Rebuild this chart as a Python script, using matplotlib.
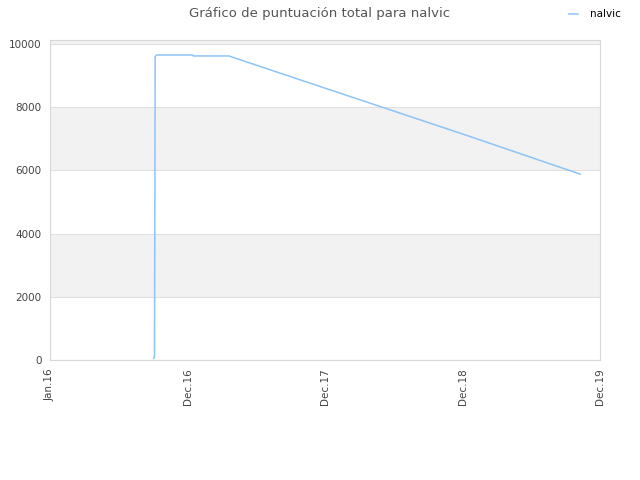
import matplotlib
matplotlib.use("Agg")
import matplotlib.pyplot as plt

# months counted from the "Jan.16" tick
months = [9.05, 9.12, 9.18, 9.30, 12.45, 12.50, 15.60, 24.0, 36.0, 46.25]
scores = [50, 100, 9600, 9650, 9650, 9620, 9620, 8600, 7150, 5880]

tick_pos = [0, 12, 24, 36, 48]
tick_labels = ["Jan.16", "Dec.16", "Dec.17", "Dec.18", "Dec.19"]
y_ticks = [0, 2000, 4000, 6000, 8000, 10000]

fig = plt.figure(figsize=(6.4, 4.8), dpi=100)
ax = fig.add_axes([0.078, 0.25, 0.86, 0.667])

# alternating background bands
for i, lo in enumerate(y_ticks):
    if i % 2 == 1:
        ax.axhspan(lo, lo + 2000, color="#f2f2f2", zorder=0, lw=0)
ax.axhspan(10000, 10200, color="#f2f2f2", zorder=0, lw=0)
for y in y_ticks:
    ax.axhline(y, color="#e0e0e0", lw=0.8, zorder=1)

ax.plot(months, scores, color="#8cc4f8", lw=1.1, label="nalvic", zorder=3)

ax.set_xlim(0, 48)
ax.set_ylim(0, 10130)
ax.set_xticks(tick_pos)
ax.set_xticklabels(tick_labels, rotation=90)
ax.set_yticks(y_ticks)
ax.tick_params(axis="both", labelsize=7.5, colors="#444444", length=0, pad=6)
for s in ax.spines.values():
    s.set_color("#d8d8d8")
    s.set_linewidth(0.8)

fig.suptitle("Gráfico de puntuación total para nalvic", x=0.5, y=0.985,
             fontsize=9.5, color="#555555")
fig.legend(loc="upper right", bbox_to_anchor=(0.985, 1.0), frameon=False,
           fontsize=7.5, handlelength=0.8, handletextpad=1.2)

fig.savefig("out.png", dpi=100, facecolor="white")
